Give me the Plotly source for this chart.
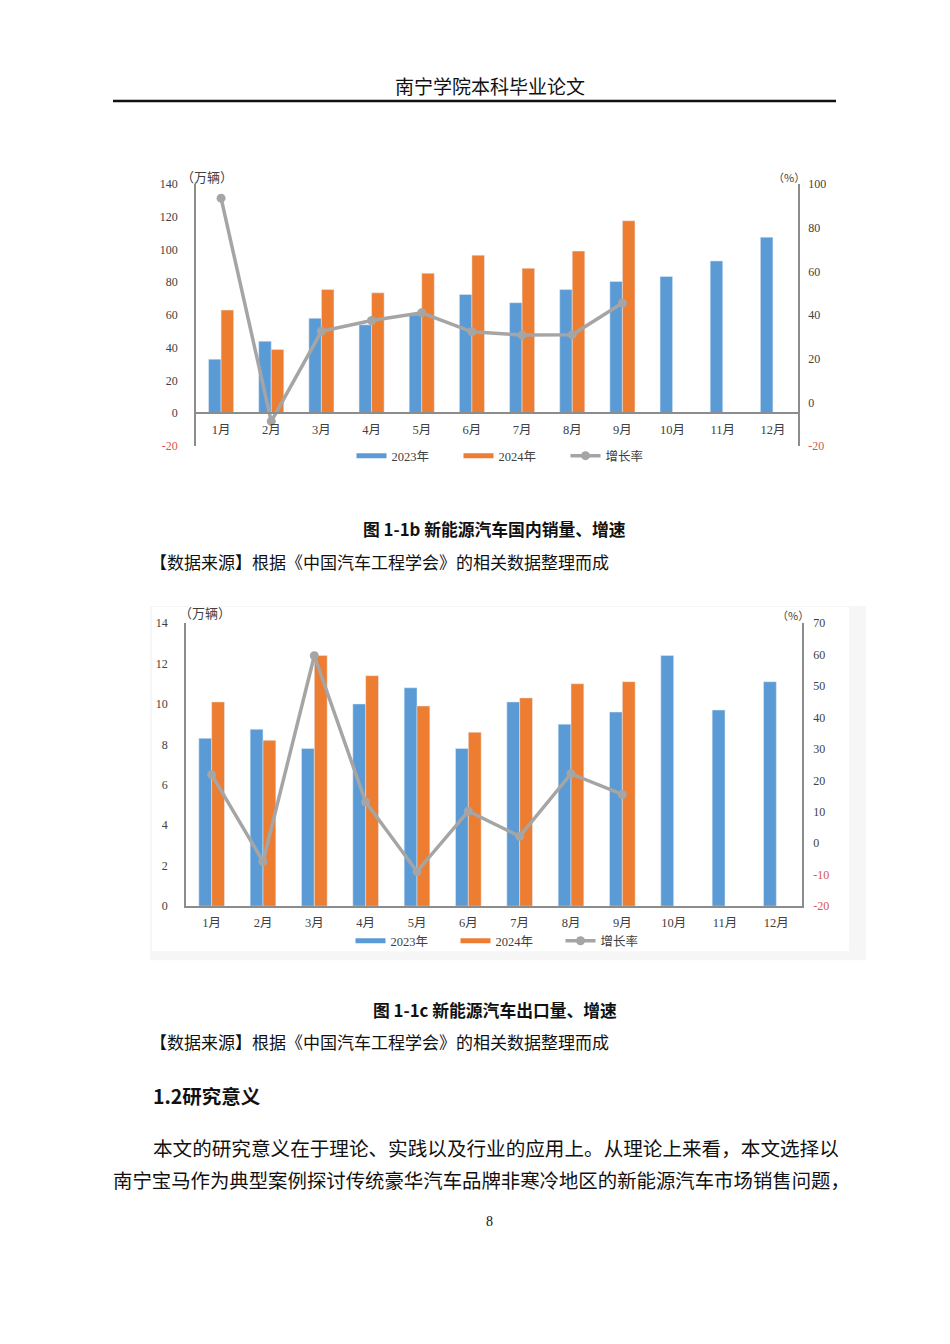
import plotly.graph_objects as go

W, H = 950, 1344

MONTHS = [f"{m}月" for m in range(1, 13)]

# 图 1-1b 国内销量（万辆）与增长率（%）
dom_2023 = [33, 44, 58, 54, 60, 72.5, 67.5, 75.5, 80.5, 83.5, 93, 107.5]
dom_2024 = [63, 39, 75.5, 73.5, 85.5, 96.5, 88.5, 99, 117.5, None, None, None]
dom_growth = [93.5, -8.7, 32.5, 37.5, 41, 32.3, 30.8, 31, 45.5, None, None, None]

# 图 1-1c 出口量（万辆）与增长率（%）
exp_2023 = [8.3, 8.75, 7.8, 10.0, 10.8, 7.8, 10.1, 9.0, 9.6, 12.4, 9.7, 11.1]
exp_2024 = [10.1, 8.2, 12.4, 11.4, 9.9, 8.6, 10.3, 11.0, 11.1, None, None, None]
exp_growth = [21.8, -5.8, 59.6, 13.1, -9.0, 10.2, 2.2, 22.1, 15.5, None, None, None]

BLUE = "#5B9BD5"
ORANGE = "#ED7D31"
GRAY = "#A5A5A5"
AXIS = "#8c8c8c"
TICK = "#404040"
RED = "#d9534f"
SERIF = "Liberation Serif, Noto Sans CJK SC"
CJK = "Noto Sans CJK SC"


def px(x):
    return x / W


def py(y):
    # small empirical correction so the photographed page lines up with the scan
    y = (y - 7.1) / 0.9893
    return 1 - y / H


def red_ticks(vals):
    return [f'<span style="color:{RED}">{v}</span>' if v < 0 else str(v) for v in vals]


fig = go.Figure()

# ---- chart 1 ----
fig.add_trace(go.Bar(x=MONTHS, y=dom_2023, marker_color=BLUE, xaxis="x", yaxis="y",
                     showlegend=False))
fig.add_trace(go.Bar(x=MONTHS, y=dom_2024, marker_color=ORANGE, xaxis="x", yaxis="y",
                     showlegend=False))
fig.add_trace(go.Scatter(x=MONTHS, y=dom_growth, mode="lines+markers", xaxis="x", yaxis="y2",
                         line=dict(color=GRAY, width=3.5), marker=dict(size=9, color=GRAY),
                         name="增长率", legend="legend", legendrank=3))

# ---- chart 2 ----
fig.add_trace(go.Bar(x=MONTHS, y=exp_2023, marker_color=BLUE, xaxis="x2", yaxis="y3",
                     showlegend=False))
fig.add_trace(go.Bar(x=MONTHS, y=exp_2024, marker_color=ORANGE, xaxis="x2", yaxis="y3",
                     showlegend=False))
fig.add_trace(go.Scatter(x=MONTHS, y=exp_growth, mode="lines+markers", xaxis="x2", yaxis="y4",
                         line=dict(color=GRAY, width=3.5), marker=dict(size=9, color=GRAY),
                         name="增长率", legend="legend2", legendrank=3))

# legend swatches drawn as thick lines, like the original
for lg, xa, ya in (("legend", "x", "y"), ("legend2", "x2", "y3")):
    for rank, (name, col) in enumerate((("2023年", BLUE), ("2024年", ORANGE)), start=1):
        fig.add_trace(go.Scatter(x=[None], y=[None], mode="lines", name=name,
                                 line=dict(color=col, width=5), xaxis=xa, yaxis=ya,
                                 legend=lg, legendrank=rank))

tickfont = dict(family=SERIF, size=12, color=TICK)
xtickfont = dict(family=SERIF, size=12.5, color=TICK)

y1_vals = list(range(-20, 141, 20))
y2_vals = list(range(-20, 101, 20))
y3_vals = list(range(0, 15, 2))
y4_vals = list(range(-20, 71, 10))
x_range = [-0.5, len(MONTHS) - 0.5]

fig.update_layout(
    width=W, height=H,
    margin=dict(l=0, r=0, t=0, b=0),
    paper_bgcolor="white", plot_bgcolor="rgba(0,0,0,0)",
    barmode="group", bargap=0.5, bargroupgap=0,
    font=dict(family=CJK, color="#222"),
    xaxis=dict(domain=[px(196), px(798)], anchor="free", position=py(413), range=x_range,
               showline=True, linecolor=AXIS, linewidth=1.5, ticks="",
               tickfont=xtickfont, showgrid=False, ticklabelstandoff=5),
    yaxis=dict(domain=[py(446), py(184)], range=[-20, 140], anchor="x",
               tickvals=y1_vals, ticktext=red_ticks(y1_vals),
               showline=True, linecolor=AXIS, linewidth=1.5, showgrid=False,
               zeroline=False, tickfont=tickfont, ticklabelstandoff=14),
    yaxis2=dict(overlaying="y", side="right", range=[-20, 100], anchor="x",
                tickvals=y2_vals, ticktext=red_ticks(y2_vals),
                showline=True, linecolor=AXIS, linewidth=1.5, showgrid=False,
                zeroline=False, tickfont=tickfont, ticklabelstandoff=6),
    xaxis2=dict(domain=[px(186), px(802)], anchor="y3", range=x_range,
                showline=True, linecolor=AXIS, linewidth=1.5, ticks="",
                tickfont=xtickfont, showgrid=False, ticklabelstandoff=4),
    yaxis3=dict(domain=[py(906), py(623)], range=[0, 14], anchor="x2",
                tickvals=y3_vals, ticktext=[str(v) for v in y3_vals],
                showline=True, linecolor=AXIS, linewidth=1.5, showgrid=False,
                zeroline=False, tickfont=tickfont, ticklabelstandoff=14),
    yaxis4=dict(overlaying="y3", side="right", range=[-20, 70], anchor="x2",
                tickvals=y4_vals, ticktext=red_ticks(y4_vals),
                showline=True, linecolor=AXIS, linewidth=1.5, showgrid=False,
                zeroline=False, tickfont=tickfont, ticklabelstandoff=7),
    legend=dict(orientation="h", x=px(512), y=py(456), xanchor="center", yanchor="middle",
                font=dict(family=SERIF, size=12.5, color=TICK), traceorder="normal",
                entrywidth=62, bgcolor="rgba(0,0,0,0)"),
    legend2=dict(orientation="h", x=px(508), y=py(941), xanchor="center", yanchor="middle",
                 font=dict(family=SERIF, size=12.5, color=TICK), traceorder="normal",
                 entrywidth=60, bgcolor="rgba(0,0,0,0)"),
)

shapes = [
    # page header rule
    dict(type="line", xref="paper", yref="paper", x0=px(113), x1=px(836),
         y0=py(101), y1=py(101), line=dict(color="#111", width=2.5)),
    # light backdrop of the second (scanned) chart
    dict(type="rect", xref="paper", yref="paper", x0=px(150), x1=px(866),
         y0=py(960), y1=py(606), fillcolor="#f6f6f6", line=dict(width=0), layer="below"),
    dict(type="rect", xref="paper", yref="paper", x0=px(152), x1=px(849),
         y0=py(951), y1=py(607), fillcolor="white", line=dict(width=0), layer="below"),
]
fig.update_layout(shapes=shapes)


def note(text, x, y, size, anchor="center", bold=False, color="#111", family=CJK):
    if bold:
        text = f"<b>{text}</b>"
    fig.add_annotation(text=text, x=px(x), y=py(y), xref="paper", yref="paper",
                       xanchor=anchor, yanchor="middle", showarrow=False,
                       font=dict(family=family, size=size, color=color))


note("南宁学院本科毕业论文", 490, 86, 19)
note("（万辆）", 207, 177, 13, color=TICK)
note("（%）", 789, 177, 11, color=TICK)
note("（万辆）", 205, 612, 13, color=TICK)
note("（%）", 793, 615, 11, color=TICK)
note("图 1-1b 新能源汽车国内销量、增速", 495, 529, 16.8, bold=True)
note("【数据来源】根据《中国汽车工程学会》的相关数据整理而成", 148, 561, 17, anchor="left")
note("图 1-1c 新能源汽车出口量、增速", 495, 1010, 16.8, bold=True)
note("【数据来源】根据《中国汽车工程学会》的相关数据整理而成", 148, 1041, 17, anchor="left")
note("1.2研究意义", 151, 1095, 19.5, anchor="left", bold=True)
note("本文的研究意义在于理论、实践以及行业的应用上。从理论上来看，本文选择以", 151, 1147, 19.6,
     anchor="left")
note("南宁宝马作为典型案例探讨传统豪华汽车品牌非寒冷地区的新能源汽车市场销售问题，", 111, 1179, 19.4,
     anchor="left")
note("8", 489, 1221, 14, family=SERIF)

# drop the default page margin so the figure sits at the window's origin
fig.write_html("out.html", config={"displayModeBar": False},
               post_script="document.body.style.margin='0';document.body.style.overflow='hidden';")
